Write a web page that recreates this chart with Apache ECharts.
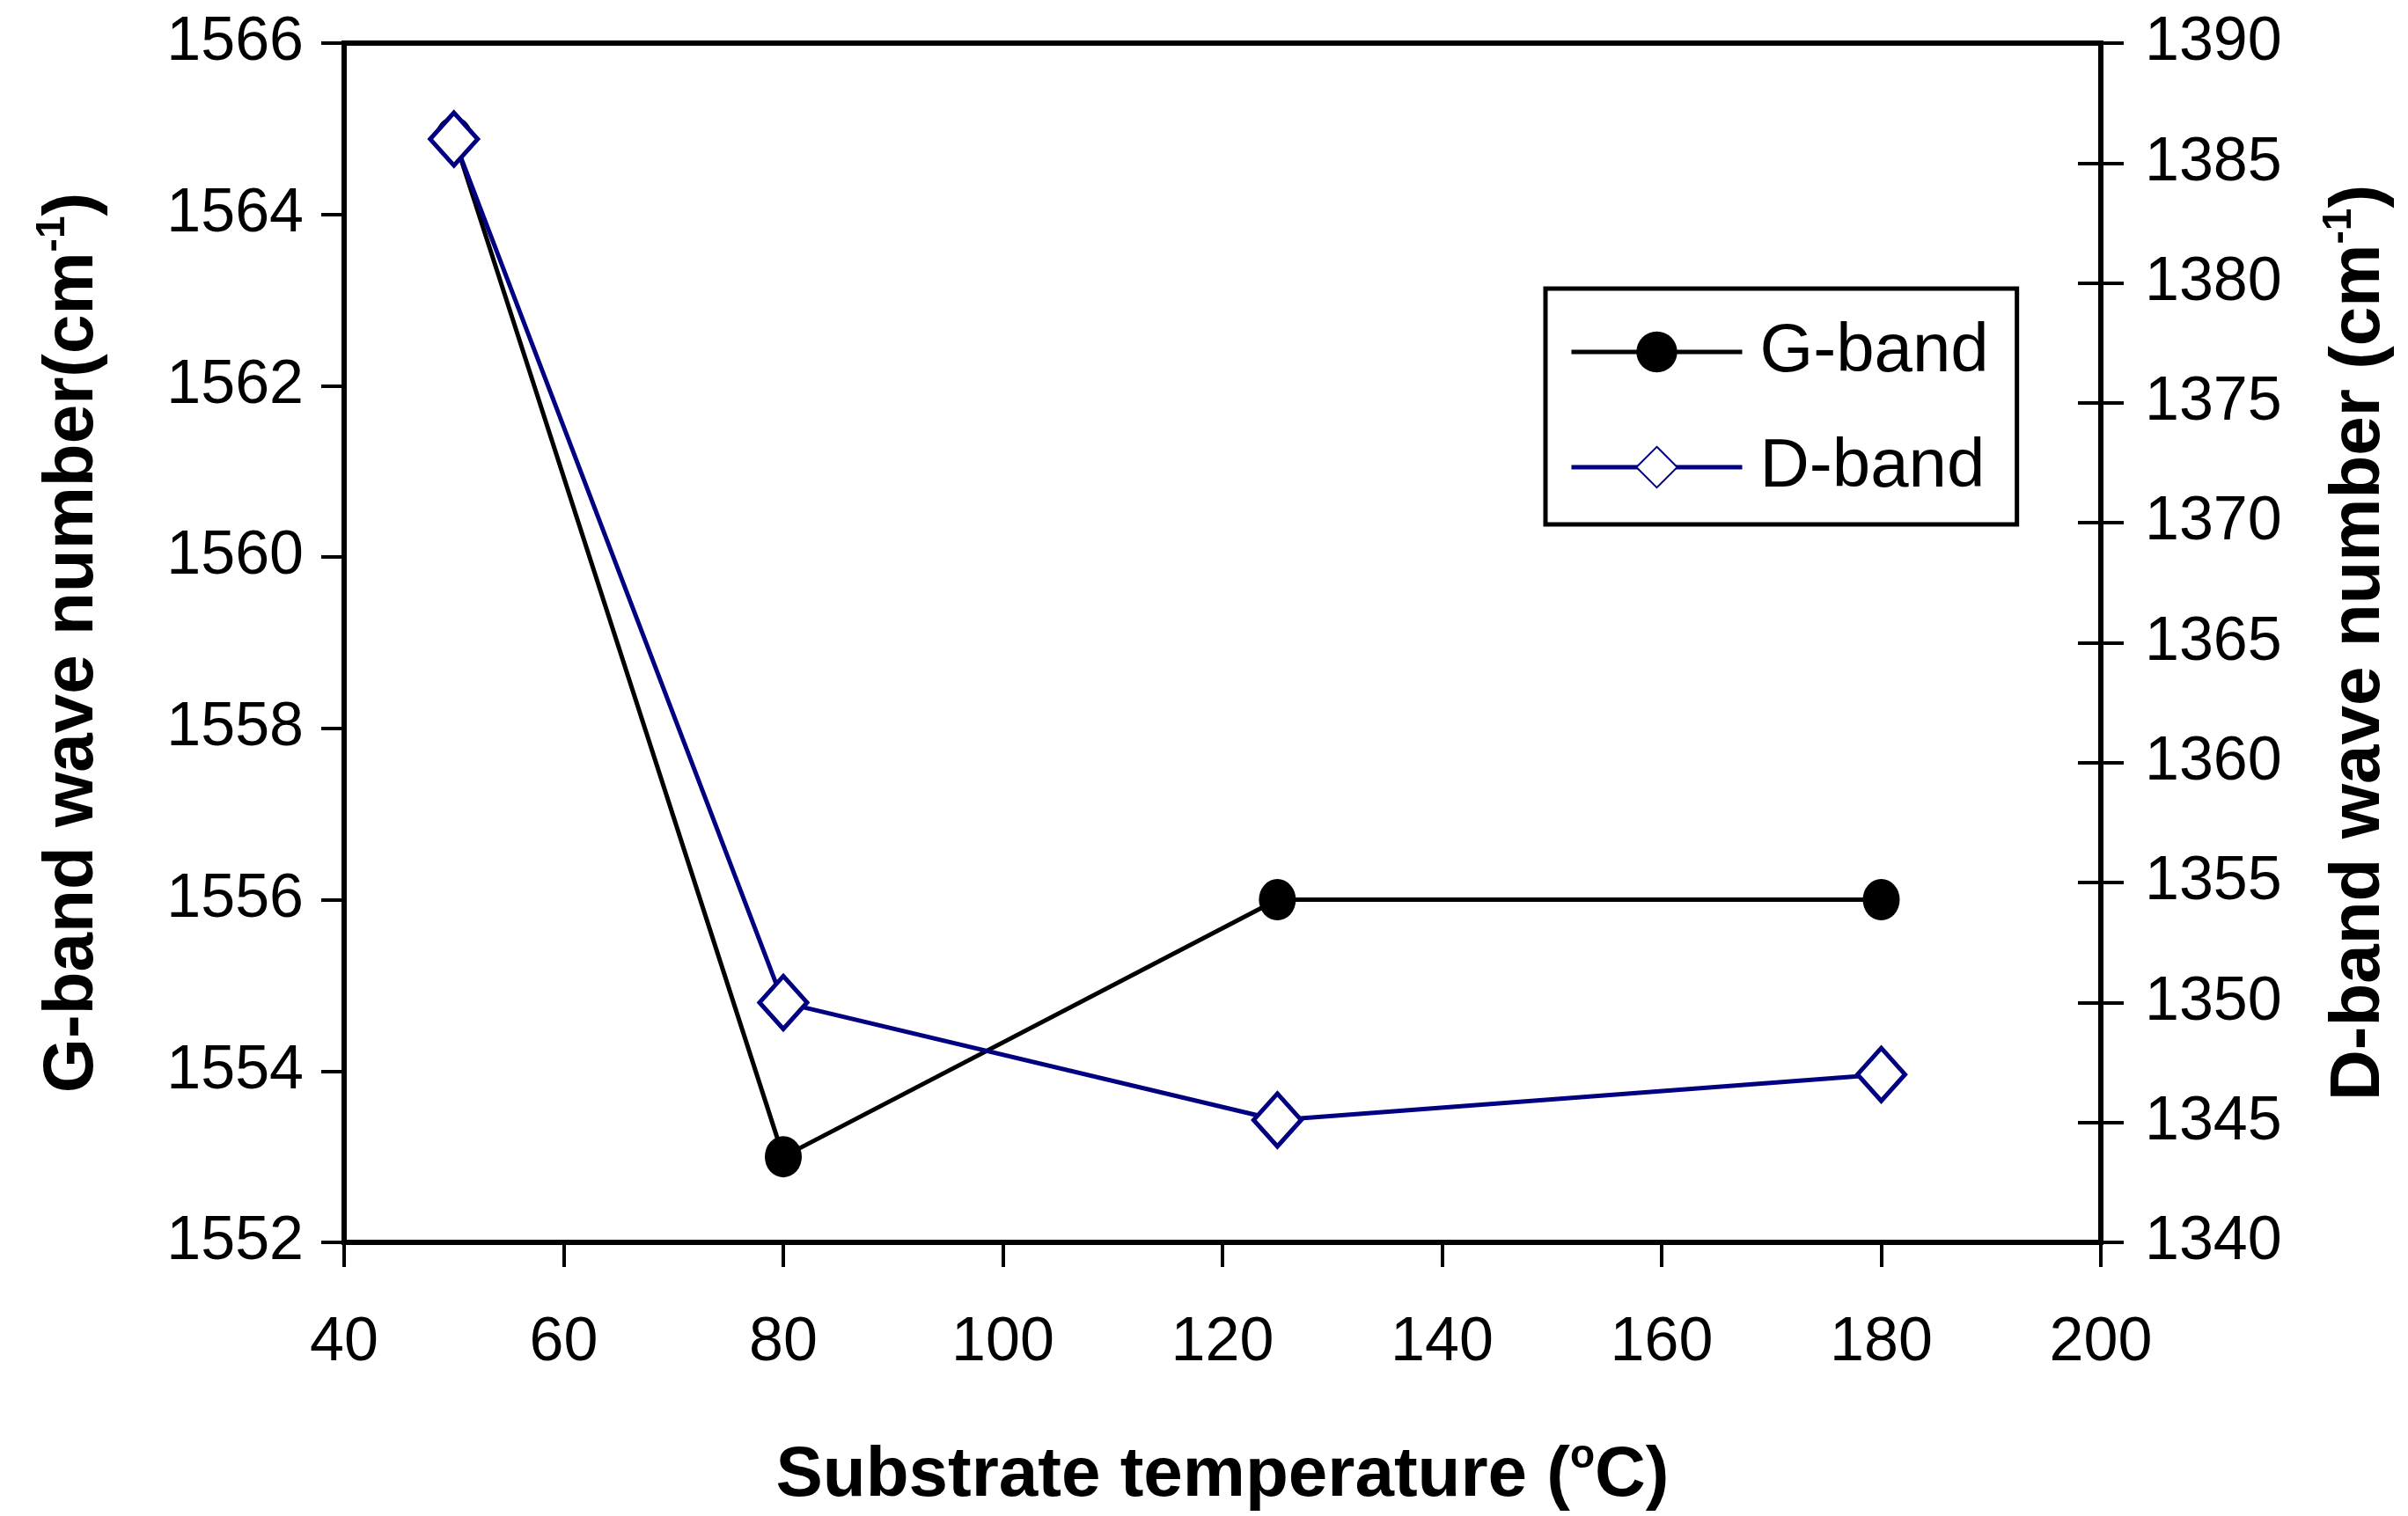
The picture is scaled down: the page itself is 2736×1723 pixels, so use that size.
<!DOCTYPE html>
<html>
<head>
<meta charset="utf-8">
<script src="https://cdn.jsdelivr.net/npm/echarts@6/dist/echarts.min.js"></script>
<style>
  html, body { margin: 0; padding: 0; background: #fff; }
  #chart { width: 2736px; height: 1723px; }
</style>
</head>
<body>
<div id="chart"></div>
<script>
// substrate temperature (°C)
var temps = [50, 80, 125, 180];
// G-band wave number (cm-1), left axis
var gBand = [1564.9, 1553.0, 1556.0, 1556.0];
// D-band wave number (cm-1), right axis
var dBand = [1386.0, 1350.0, 1345.1, 1347.0];

var xTicks = { min: 40, max: 200, interval: 20 };
var gTicks = { min: 1552, max: 1566, interval: 2 };
var dTicks = { min: 1340, max: 1390, interval: 5 };

var font = 'Liberation Sans, Arial, sans-serif';

function pairs(xs, ys) {
    var out = [];
    for (var i = 0; i < xs.length; i++) {
        out.push([xs[i], ys[i]]);
    }
    return out;
}

// no thousands separator on the tick labels
function plain(v) {
    return String(v);
}

var titleRich = {
    b: { fontFamily: font, fontWeight: 'bold', fontSize: 80, color: '#000', lineHeight: 92 },
    sup: { fontFamily: font, fontWeight: 'bold', fontSize: 46, color: '#000', verticalAlign: 'top', lineHeight: 92, padding: [0, 0, 38, 0] }
};

var myChart = echarts.init(document.getElementById('chart'));

var option = {
    backgroundColor: '#fff',
    animation: false,
    grid: {
        left: 391,
        right: 349,
        top: 49,
        bottom: 306,
        show: true,
        borderColor: '#000',
        borderWidth: 6
    },
    legend: {
        orient: 'vertical',
        left: 1756,
        top: 328,
        padding: [33, 32, 26, 27],
        itemWidth: 194,
        itemHeight: 58,
        itemGap: 53,
        borderColor: '#000',
        borderWidth: 5,
        backgroundColor: '#fff',
        lineStyle: { width: 5 },
        textStyle: { fontFamily: font, fontSize: 78, color: '#000', padding: [0, 0, 0, 15] },
        data: ['G-band', 'D-band']
    },
    xAxis: {
        type: 'value',
        min: xTicks.min,
        max: xTicks.max,
        interval: xTicks.interval,
        name: '{b|Substrate temperature (}{sup|o}{b|C)}',
        nameLocation: 'middle',
        nameGap: 220,
        nameTextStyle: { rich: titleRich },
        splitLine: { show: false },
        axisLine: { lineStyle: { color: '#000', width: 6 } },
        axisTick: { length: 28, lineStyle: { color: '#000', width: 4 } },
        axisLabel: { fontFamily: font, fontSize: 70, color: '#000', margin: 80, formatter: plain }
    },
    yAxis: [
        {
            type: 'value',
            position: 'left',
            min: gTicks.min,
            max: gTicks.max,
            interval: gTicks.interval,
            name: '{b|G-band wave number(cm}{sup|-1}{b|)}',
            nameLocation: 'middle',
            nameRotate: 90,
            nameGap: 262,
            nameTextStyle: { rich: titleRich },
            splitLine: { show: false },
            axisLine: { show: true, lineStyle: { color: '#000', width: 6 } },
            axisTick: { show: true, length: 26, lineStyle: { color: '#000', width: 4 } },
            axisLabel: { fontFamily: font, fontSize: 70, color: '#000', margin: 46, formatter: plain }
        },
        {
            type: 'value',
            position: 'right',
            min: dTicks.min,
            max: dTicks.max,
            interval: dTicks.interval,
            name: '{b|D-band wave number (cm}{sup|-1}{b|)}',
            nameLocation: 'middle',
            nameRotate: 90,
            nameGap: 248,
            nameTextStyle: { rich: titleRich },
            splitLine: { show: false },
            axisLine: { show: true, lineStyle: { color: '#000', width: 6 } },
            axisTick: { show: true, length: 26, lineStyle: { color: '#000', width: 4 } },
            axisLabel: { fontFamily: font, fontSize: 70, color: '#000', margin: 50, formatter: plain }
        },
        {
            // inner half of the crossing ticks on the right axis
            type: 'value',
            position: 'right',
            min: dTicks.min,
            max: dTicks.max,
            interval: dTicks.interval,
            splitLine: { show: false },
            axisLine: { show: true, lineStyle: { color: '#000', width: 6 } },
            axisTick: { show: true, inside: true, length: 26, lineStyle: { color: '#000', width: 4 } },
            axisLabel: { show: false }
        }
    ],
    series: [
        {
            name: 'G-band',
            type: 'line',
            yAxisIndex: 0,
            data: pairs(temps, gBand),
            symbol: 'circle',
            symbolSize: [42, 47],
            lineStyle: { color: '#000', width: 5 },
            itemStyle: { color: '#000', borderColor: '#000', borderWidth: 0 },
            z: 3
        },
        {
            name: 'D-band',
            type: 'line',
            yAxisIndex: 1,
            data: pairs(temps, dBand),
            symbol: 'diamond',
            symbolSize: [54, 60],
            lineStyle: { color: '#000080', width: 5 },
            itemStyle: { color: '#fff', borderColor: '#000080', borderWidth: 5 },
            z: 4
        }
    ]
};

myChart.setOption(option);
</script>
</body>
</html>
